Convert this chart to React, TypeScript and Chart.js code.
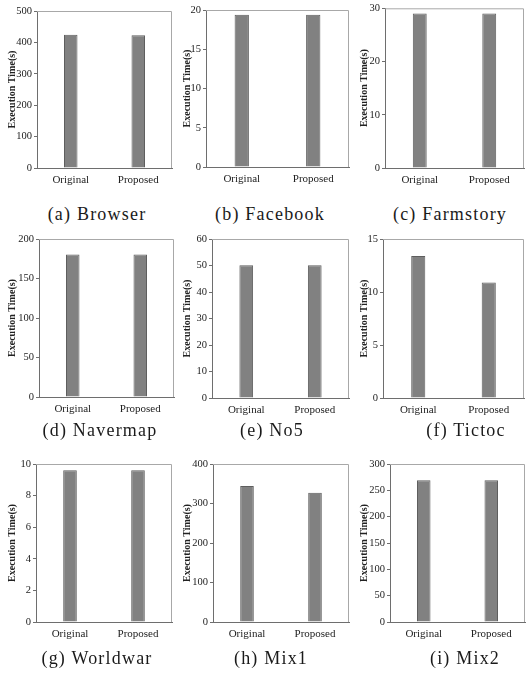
import React, { useEffect, useRef } from "react";
import { Chart, registerables } from "chart.js";

Chart.register(...registerables);

// ---- data ----
const categories = ["Original", "Proposed"];
const captions = [
  "(a) Browser",
  "(b) Facebook",
  "(c) Farmstory",
  "(d) Navermap",
  "(e) No5",
  "(f) Tictoc",
  "(g) Worldwar",
  "(h) Mix1",
  "(i) Mix2",
];
const browserTimes = [424, 423];
const facebookTimes = [19.4, 19.4];
const farmstoryTimes = [29.0, 29.0];
const navermapTimes = [180.5, 180.5];
const no5Times = [50.1, 50.1];
const tictocTimes = [13.4, 10.9];
const worldwarTimes = [9.6, 9.6];
const mix1Times = [344, 327];
const mix2Times = [269, 269];
const yMaxValues = [500, 20, 30, 200, 60, 15, 10, 400, 300];
const yStepValues = [100, 5, 10, 50, 10, 5, 2, 100, 50];
const axisTitle = "Execution Time(s)";

const seriesList = [
  browserTimes,
  facebookTimes,
  farmstoryTimes,
  navermapTimes,
  no5Times,
  tictocTimes,
  worldwarTimes,
  mix1Times,
  mix2Times,
];

// ---- layout (pixels) ----
const colCanvasLeft = [0, 175, 352];
const colCanvasWidth = [175, 177, 174];
const rowCanvasTop = [0, 225, 450];
const rowCanvasHeight = [195, 200, 200];
const plotLeft = [37, 206, 385, 39, 212, 383, 36, 213, 390];
const plotRight = [172, 349, 524, 174, 349, 524, 172, 349, 525];
const plotTop = [11, 10, 8, 239, 239, 239, 464, 464, 464];
const plotBottom = [168, 167, 168, 397, 398, 398, 622, 622, 622];
const captionCx = [97, 270, 450, 100, 272, 466, 97, 271, 465];
const captionCy = [214, 214, 214, 430, 430, 430, 658, 658, 658];
const X_AXIS_H = 24;

const framePlugin = {
  id: "frameTR",
  afterDraw(chart: any) {
    const { ctx, chartArea } = chart;
    const { left, right, top, bottom } = chartArea;
    ctx.save();
    ctx.strokeStyle = "#a8a8a8";
    ctx.lineWidth = 1;
    ctx.beginPath();
    ctx.moveTo(left, top + 0.5);
    ctx.lineTo(right - 0.5, top + 0.5);
    ctx.lineTo(right - 0.5, bottom);
    ctx.stroke();
    ctx.restore();
  },
};

function Panel({ idx }: { idx: number }) {
  const ref = useRef<HTMLCanvasElement | null>(null);
  const col = idx % 3;
  const row = Math.floor(idx / 3);
  const cl = colCanvasLeft[col];
  const cw = colCanvasWidth[col];
  const ct = rowCanvasTop[row];
  const ch = rowCanvasHeight[row];

  useEffect(() => {
    if (!ref.current) return;
    const yWidth = plotLeft[idx] - cl;
    const padRight = cl + cw - plotRight[idx];
    const padTop = plotTop[idx] - ct;
    const padBottom = ct + ch - plotBottom[idx] - X_AXIS_H;
    const chart = new Chart(ref.current, {
      type: "bar",
      data: {
        labels: categories,
        datasets: [
          {
            data: seriesList[idx],
            backgroundColor: "#818181",
            borderColor: "#5e5e5e",
            borderWidth: 1,
            barPercentage: 0.2,
            categoryPercentage: 1,
          },
        ],
      },
      options: {
        responsive: false,
        animation: false,
        devicePixelRatio: 1,
        layout: {
          padding: { left: 0, right: padRight, top: padTop, bottom: padBottom },
        },
        plugins: {
          legend: { display: false },
          tooltip: { enabled: false },
          title: { display: false },
        },
        scales: {
          x: {
            type: "category",
            offset: true,
            grid: { display: false, drawTicks: false },
            border: { display: true, color: "#6e6e6e", width: 1 },
            ticks: {
              padding: 6,
              color: "#222",
              font: { family: "'Liberation Serif', serif", size: 11 },
              maxRotation: 0,
            },
            afterFit: (s: any) => {
              s.height = X_AXIS_H;
            },
          },
          y: {
            type: "linear",
            min: 0,
            max: yMaxValues[idx],
            grid: {
              display: true,
              drawOnChartArea: false,
              drawTicks: true,
              tickLength: 3,
              color: "#6e6e6e",
            },
            border: { display: true, color: "#6e6e6e", width: 1 },
            ticks: {
              stepSize: yStepValues[idx],
              padding: 2,
              color: "#222",
              font: { family: "'Liberation Serif', serif", size: 10.5 },
            },
            title: {
              display: true,
              text: axisTitle,
              color: "#222",
              padding: { top: 6, bottom: 0 },
              font: { family: "'Liberation Serif', serif", size: 10, weight: "bold" },
            },
            afterFit: (s: any) => {
              s.width = yWidth;
            },
          },
        },
      },
      plugins: [framePlugin],
    } as any);
    return () => chart.destroy();
  }, [idx]);

  return (
    <>
      <canvas
        ref={ref}
        width={cw}
        height={ch}
        style={{ position: "absolute", left: cl, top: ct, width: cw, height: ch }}
      />
      <div
        style={{
          position: "absolute",
          left: captionCx[idx] - 80,
          width: 160,
          top: captionCy[idx] - 12,
          height: 24,
          lineHeight: "24px",
          textAlign: "center",
          fontFamily: "'Liberation Serif', serif",
          fontSize: 18,
          letterSpacing: "1.2px",
          color: "#1a1a1a",
          whiteSpace: "nowrap",
        }}
      >
        {captions[idx]}
      </div>
    </>
  );
}

export default function App() {
  return (
    <div
      style={{
        position: "absolute",
        left: 0,
        top: 0,
        width: 526,
        height: 673,
        overflow: "hidden",
        background: "#fff",
      }}
    >
      {captions.map((_, i) => (
        <Panel key={i} idx={i} />
      ))}
    </div>
  );
}
